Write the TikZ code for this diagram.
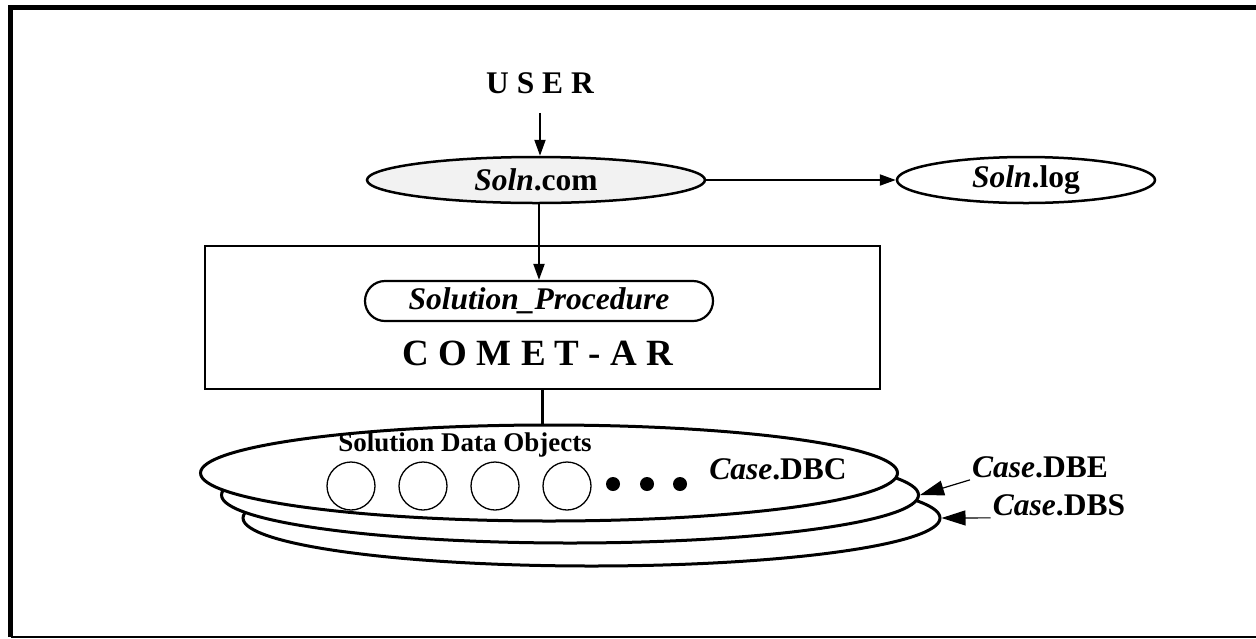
\documentclass[tikz,border=0pt]{standalone}
\usepackage{fontspec}
\setmainfont{Liberation Serif}
\usetikzlibrary{shapes.geometric, arrows.meta, positioning, calc}

\tikzset{
  lbl/.style={font=\fontsize{31.5}{36}\selectfont\bfseries, inner sep=2pt},
  file/.style={lbl, ellipse, draw, line width=2.5pt, inner sep=0pt, minimum height=46pt},
  db/.style={ellipse, draw, line width=3pt, fill=white, minimum width=697pt, minimum height=96pt},
  obj/.style={circle, draw, line width=1.3pt, minimum size=48pt, inner sep=0pt},
  dot/.style={circle, fill, minimum size=14pt, inner sep=0pt},
  flow/.style={-{Triangle[length=16pt, width=11pt]}, line width=2pt},
  ptr/.style={-{Triangle[length=24pt, width=15pt]}, line width=1.2pt}
}

\begin{document}
\begin{tikzpicture}[x=1pt, y=-1pt]
\useasboundingbox (0,0) rectangle (1256,638);
\draw[line width=5pt] (10.5,637) -- (10.5,7) -- (1256,7);
\draw[line width=2pt] (10.5,636.5) -- (1256,636.5);

\node[lbl] (user) at (540,83) {U S E R};
\node[file, fill=gray!10, minimum width=338pt] (solncom) at (536,180) {\textit{Soln}.com};
\node[file, minimum width=258pt] (solnlog) at (1026,180) {\textit{Soln}.log};

\node[rectangle, draw, line width=2.2pt, minimum width=675pt, minimum height=143pt] (comet) at (542.5,317.5) {};
\node[lbl, rectangle, draw, line width=2.2pt, rounded corners=20pt, minimum width=348pt, minimum height=40pt, inner sep=0pt] (sproc) at (539,301) {\textit{Solution\_Procedure}};
\node[font=\fontsize{37}{42}\selectfont\bfseries] (cometlbl) at (538,353) {C O M E T - A R};

\node[db] (dbs) at (591.5,518) {};
\node[db] (dbe) at (570,495) {};
\node[db] (dbc) at (549,473) {};
\node[font=\fontsize{27}{30}\selectfont\bfseries] (sdo) at (465,445) {Solution Data Objects};
\foreach \i/\x in {1/351,2/423,3/495,4/567}
  \node[obj] (obj\i) at (\x,486) {};
\foreach \i/\x in {1/613,2/647,3/680}
  \node[dot] (dot\i) at (\x,484) {};
\node[lbl] (dbclbl) at (778,469) {\textit{Case}.DBC};
\node[lbl] (dbelbl) at (1040,467) {\textit{Case}.DBE};
\node[lbl] (dbslbl) at (1059,505) {\textit{Case}.DBS};

\draw[flow, shorten <=17pt] (user.south) -- (user.south |- solncom.north);
\draw[flow] (solncom.east) -- (solnlog.west);
\draw[flow] (sproc.north |- solncom.south) -- (sproc.north);
\draw[line width=2.2pt] (comet.south) -- (comet.south |- dbc.north);
\draw[ptr] (dbelbl.south west) -- (dbe.east);
\draw[ptr] (dbslbl.south west) -- (dbs.east);
\end{tikzpicture}
\end{document}
